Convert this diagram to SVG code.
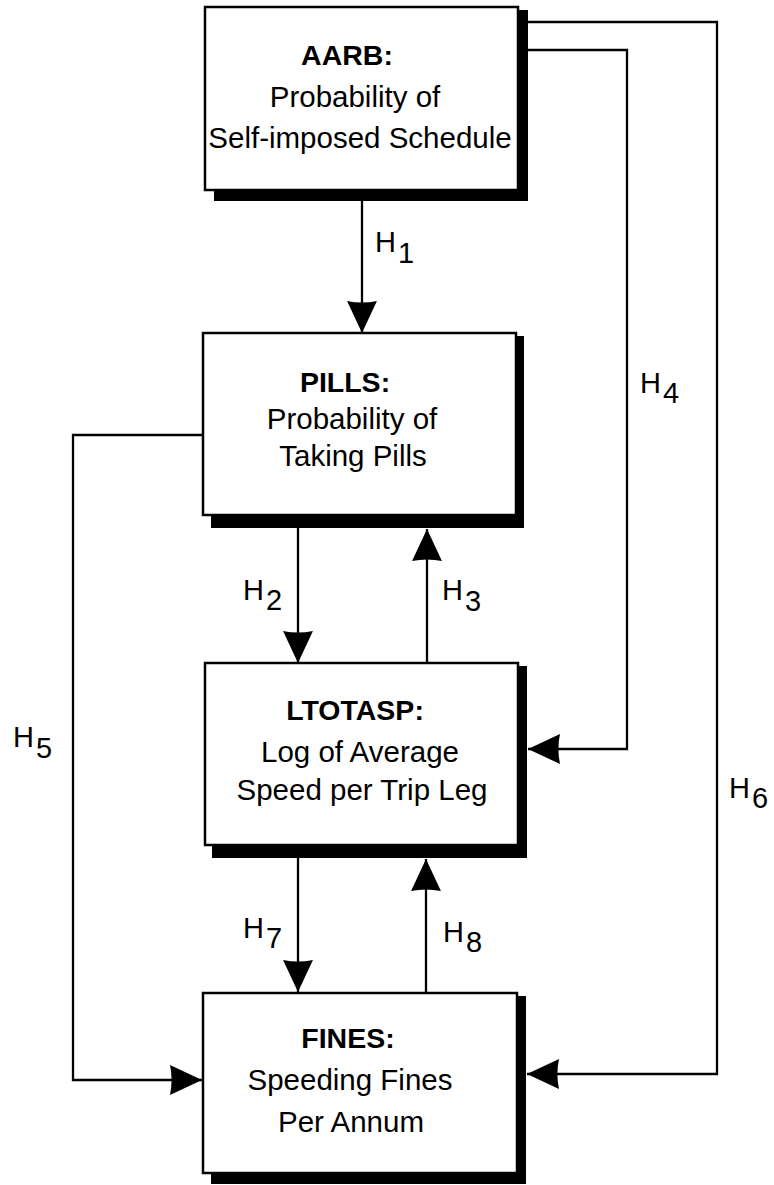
<svg xmlns="http://www.w3.org/2000/svg" width="774" height="1185" viewBox="0 0 774 1185">
<defs>
<style>
.shadow{fill:#000}
.box{fill:#fff;stroke:#000;stroke-width:2.5}
.t{font-family:"Liberation Sans",Arial,sans-serif;font-size:29.5px;fill:#000;text-anchor:middle}
.b{font-weight:bold;font-size:28.5px}
.lbl{font-family:"Liberation Sans",Arial,sans-serif;font-size:29px;fill:#000}
.con{fill:none;stroke:#000;stroke-width:2.3}
</style>
<marker id="ah" markerUnits="userSpaceOnUse" markerWidth="32" markerHeight="30" viewBox="0 0 30 28" refX="30" refY="14" orient="auto">
<path d="M0,0 L30,14 L0,28 Q3,14 0,0 Z" fill="#000"/>
</marker>
</defs>
<rect width="774" height="1185" fill="#fff"/>
<g id="connectors">
<line class="con" x1="362" y1="201" x2="362" y2="333" marker-end="url(#ah)"/>
<line class="con" x1="298" y1="528" x2="298" y2="663" marker-end="url(#ah)"/>
<line class="con" x1="427" y1="663" x2="427" y2="529" marker-end="url(#ah)"/>
<path class="con" d="M528,50 H627 V749 H528" marker-end="url(#ah)"/>
<path class="con" d="M203,435 H73 V1080 H202" marker-end="url(#ah)"/>
<path class="con" d="M528,22 H717 V1074 H527" marker-end="url(#ah)"/>
<line class="con" x1="298" y1="858" x2="298" y2="992" marker-end="url(#ah)"/>
<line class="con" x1="426" y1="992" x2="426" y2="859" marker-end="url(#ah)"/>
</g>
<g id="labels">
<text class="lbl" x="375" y="252">H<tspan x="398" dy="11">1</tspan></text>
<text class="lbl" x="243" y="600">H<tspan x="266" dy="10">2</tspan></text>
<text class="lbl" x="442" y="600">H<tspan x="465" dy="11">3</tspan></text>
<text class="lbl" x="640" y="393">H<tspan x="663" dy="10">4</tspan></text>
<text class="lbl" x="13" y="747">H<tspan x="36" dy="11">5</tspan></text>
<text class="lbl" x="729" y="798">H<tspan x="752" dy="10">6</tspan></text>
<text class="lbl" x="243" y="938">H<tspan x="266" dy="10">7</tspan></text>
<text class="lbl" x="443" y="942">H<tspan x="466" dy="10">8</tspan></text>
</g>
<g id="AARB">
<rect class="shadow" x="214" y="10" width="314" height="191"/>
<rect class="box" x="205" y="7" width="313" height="183"/>
<text class="t b" x="347" y="65">AARB:</text>
<text class="t" x="355" y="107">Probability of</text>
<text class="t" x="360" y="148">Self-imposed Schedule</text>
</g>
<g id="PILLS">
<rect class="shadow" x="211" y="336" width="313" height="192"/>
<rect class="box" x="203" y="333" width="313" height="182"/>
<text class="t b" x="345" y="392">PILLS:</text>
<text class="t" x="352" y="429">Probability of</text>
<text class="t" x="353" y="466">Taking Pills</text>
</g>
<g id="LTOTASP">
<rect class="shadow" x="212" y="666" width="315" height="192"/>
<rect class="box" x="205" y="663" width="313" height="182"/>
<text class="t b" x="355" y="720">LTOTASP:</text>
<text class="t" x="360" y="762">Log of Average</text>
<text class="t" x="362" y="800">Speed per Trip Leg</text>
</g>
<g id="FINES">
<rect class="shadow" x="211" y="996" width="315" height="188"/>
<rect class="box" x="203" y="993" width="314" height="180"/>
<text class="t b" x="348" y="1048">FINES:</text>
<text class="t" x="350" y="1090">Speeding Fines</text>
<text class="t" x="351" y="1132">Per Annum</text>
</g>
</svg>
